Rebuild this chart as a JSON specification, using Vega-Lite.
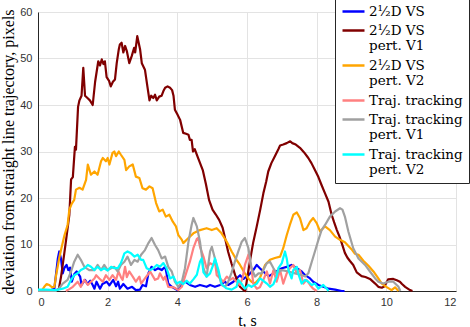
{
"$schema":"https://vega.github.io/schema/vega-lite/v6.json",
"width":418,"height":279,
"autosize":{"type":"none"},
"padding":{"left":38,"top":12,"right":14,"bottom":36},
"config":{
 "view":{"stroke":null},
 "axis":{"domainColor":"#262626","domainWidth":1,"tickSize":0,"gridColor":"#e3e3e3","gridWidth":1,"labelFont":"Liberation Sans","labelFontSize":11,"labelColor":"#333333","titleFont":"Liberation Serif","titleFontSize":16,"titleFontWeight":"normal","titleColor":"#000000"}
},
"data":{"values":[
{"s":"2¹⁄₂D VS","t":0,"v":0},{"s":"2¹⁄₂D VS","t":0.3,"v":0},{"s":"2¹⁄₂D VS","t":0.47,"v":0.5},{"s":"2¹⁄₂D VS","t":0.52,"v":3.8},{"s":"2¹⁄₂D VS","t":0.57,"v":7},{"s":"2¹⁄₂D VS","t":0.61,"v":8.5},{"s":"2¹⁄₂D VS","t":0.66,"v":7},{"s":"2¹⁄₂D VS","t":0.71,"v":3.8},{"s":"2¹⁄₂D VS","t":0.76,"v":5},{"s":"2¹⁄₂D VS","t":0.82,"v":5.6},{"s":"2¹⁄₂D VS","t":0.87,"v":4.5},{"s":"2¹⁄₂D VS","t":0.92,"v":5},{"s":"2¹⁄₂D VS","t":0.97,"v":2},{"s":"2¹⁄₂D VS","t":1.04,"v":3.6},{"s":"2¹⁄₂D VS","t":1.11,"v":4.2},{"s":"2¹⁄₂D VS","t":1.21,"v":3.1},{"s":"2¹⁄₂D VS","t":1.25,"v":1.3},{"s":"2¹⁄₂D VS","t":1.35,"v":2.4},{"s":"2¹⁄₂D VS","t":1.42,"v":1.5},{"s":"2¹⁄₂D VS","t":1.5,"v":2.2},{"s":"2¹⁄₂D VS","t":1.57,"v":1.3},{"s":"2¹⁄₂D VS","t":1.62,"v":0.5},{"s":"2¹⁄₂D VS","t":1.68,"v":2},{"s":"2¹⁄₂D VS","t":1.78,"v":0.5},{"s":"2¹⁄₂D VS","t":1.85,"v":1.5},{"s":"2¹⁄₂D VS","t":1.97,"v":2},{"s":"2¹⁄₂D VS","t":2.05,"v":1.2},{"s":"2¹⁄₂D VS","t":2.16,"v":2.4},{"s":"2¹⁄₂D VS","t":2.24,"v":1},{"s":"2¹⁄₂D VS","t":2.3,"v":2},{"s":"2¹⁄₂D VS","t":2.35,"v":0.5},{"s":"2¹⁄₂D VS","t":2.45,"v":1.5},{"s":"2¹⁄₂D VS","t":2.57,"v":0.5},{"s":"2¹⁄₂D VS","t":2.7,"v":0.9},{"s":"2¹⁄₂D VS","t":2.81,"v":0.2},{"s":"2¹⁄₂D VS","t":2.93,"v":0.3},{"s":"2¹⁄₂D VS","t":3.0,"v":1.3},{"s":"2¹⁄₂D VS","t":3.1,"v":1},{"s":"2¹⁄₂D VS","t":3.17,"v":3.8},{"s":"2¹⁄₂D VS","t":3.26,"v":5.2},{"s":"2¹⁄₂D VS","t":3.36,"v":4.5},{"s":"2¹⁄₂D VS","t":3.45,"v":4.9},{"s":"2¹⁄₂D VS","t":3.55,"v":4.5},{"s":"2¹⁄₂D VS","t":3.65,"v":5.2},{"s":"2¹⁄₂D VS","t":3.69,"v":3.8},{"s":"2¹⁄₂D VS","t":3.74,"v":1.6},{"s":"2¹⁄₂D VS","t":3.84,"v":0.9},{"s":"2¹⁄₂D VS","t":4.0,"v":0.2},{"s":"2¹⁄₂D VS","t":4.13,"v":1.6},{"s":"2¹⁄₂D VS","t":4.22,"v":2},{"s":"2¹⁄₂D VS","t":4.36,"v":1.3},{"s":"2¹⁄₂D VS","t":4.51,"v":0.9},{"s":"2¹⁄₂D VS","t":4.65,"v":1.3},{"s":"2¹⁄₂D VS","t":4.84,"v":0.9},{"s":"2¹⁄₂D VS","t":4.94,"v":1.3},{"s":"2¹⁄₂D VS","t":5.08,"v":0.9},{"s":"2¹⁄₂D VS","t":5.23,"v":1.3},{"s":"2¹⁄₂D VS","t":5.37,"v":2},{"s":"2¹⁄₂D VS","t":5.46,"v":1.3},{"s":"2¹⁄₂D VS","t":5.61,"v":2},{"s":"2¹⁄₂D VS","t":5.7,"v":2.7},{"s":"2¹⁄₂D VS","t":5.8,"v":3.4},{"s":"2¹⁄₂D VS","t":5.9,"v":2.6},{"s":"2¹⁄₂D VS","t":6.04,"v":3.4},{"s":"2¹⁄₂D VS","t":6.18,"v":4.5},{"s":"2¹⁄₂D VS","t":6.28,"v":5.6},{"s":"2¹⁄₂D VS","t":6.37,"v":4.9},{"s":"2¹⁄₂D VS","t":6.52,"v":3.8},{"s":"2¹⁄₂D VS","t":6.63,"v":3.2},{"s":"2¹⁄₂D VS","t":6.76,"v":3.8},{"s":"2¹⁄₂D VS","t":6.9,"v":4.5},{"s":"2¹⁄₂D VS","t":7.0,"v":4.9},{"s":"2¹⁄₂D VS","t":7.14,"v":5.2},{"s":"2¹⁄₂D VS","t":7.28,"v":5.6},{"s":"2¹⁄₂D VS","t":7.43,"v":4.9},{"s":"2¹⁄₂D VS","t":7.57,"v":4.2},{"s":"2¹⁄₂D VS","t":7.67,"v":3.4},{"s":"2¹⁄₂D VS","t":7.81,"v":2.7},{"s":"2¹⁄₂D VS","t":7.9,"v":2},{"s":"2¹⁄₂D VS","t":8.05,"v":1.3},{"s":"2¹⁄₂D VS","t":8.19,"v":0.9},{"s":"2¹⁄₂D VS","t":8.34,"v":0.5},{"s":"2¹⁄₂D VS","t":8.53,"v":0.3},{"s":"2¹⁄₂D VS","t":8.72,"v":0},{"s":"2¹⁄₂D VS","t":8.8,"v":0},

{"s":"2¹⁄₂D VS pert. V1","t":0,"v":0},{"s":"2¹⁄₂D VS pert. V1","t":0.5,"v":0},{"s":"2¹⁄₂D VS pert. V1","t":0.6,"v":0.5},{"s":"2¹⁄₂D VS pert. V1","t":0.66,"v":3},{"s":"2¹⁄₂D VS pert. V1","t":0.71,"v":5.6},{"s":"2¹⁄₂D VS pert. V1","t":0.8,"v":10.6},{"s":"2¹⁄₂D VS pert. V1","t":0.9,"v":16.4},{"s":"2¹⁄₂D VS pert. V1","t":0.95,"v":24},{"s":"2¹⁄₂D VS pert. V1","t":1.0,"v":24.5},{"s":"2¹⁄₂D VS pert. V1","t":1.06,"v":31},{"s":"2¹⁄₂D VS pert. V1","t":1.09,"v":30.4},{"s":"2¹⁄₂D VS pert. V1","t":1.15,"v":39.6},{"s":"2¹⁄₂D VS pert. V1","t":1.19,"v":41},{"s":"2¹⁄₂D VS pert. V1","t":1.25,"v":42},{"s":"2¹⁄₂D VS pert. V1","t":1.3,"v":48},{"s":"2¹⁄₂D VS pert. V1","t":1.35,"v":42},{"s":"2¹⁄₂D VS pert. V1","t":1.42,"v":41.5},{"s":"2¹⁄₂D VS pert. V1","t":1.49,"v":41},{"s":"2¹⁄₂D VS pert. V1","t":1.57,"v":40},{"s":"2¹⁄₂D VS pert. V1","t":1.64,"v":45},{"s":"2¹⁄₂D VS pert. V1","t":1.73,"v":49.4},{"s":"2¹⁄₂D VS pert. V1","t":1.78,"v":48.5},{"s":"2¹⁄₂D VS pert. V1","t":1.83,"v":49.8},{"s":"2¹⁄₂D VS pert. V1","t":1.88,"v":48.8},{"s":"2¹⁄₂D VS pert. V1","t":1.92,"v":49.4},{"s":"2¹⁄₂D VS pert. V1","t":1.97,"v":46},{"s":"2¹⁄₂D VS pert. V1","t":2.04,"v":45.2},{"s":"2¹⁄₂D VS pert. V1","t":2.09,"v":44},{"s":"2¹⁄₂D VS pert. V1","t":2.15,"v":45},{"s":"2¹⁄₂D VS pert. V1","t":2.21,"v":45.5},{"s":"2¹⁄₂D VS pert. V1","t":2.26,"v":49},{"s":"2¹⁄₂D VS pert. V1","t":2.32,"v":52},{"s":"2¹⁄₂D VS pert. V1","t":2.35,"v":53},{"s":"2¹⁄₂D VS pert. V1","t":2.4,"v":53.4},{"s":"2¹⁄₂D VS pert. V1","t":2.45,"v":51.3},{"s":"2¹⁄₂D VS pert. V1","t":2.5,"v":52.7},{"s":"2¹⁄₂D VS pert. V1","t":2.55,"v":51.6},{"s":"2¹⁄₂D VS pert. V1","t":2.62,"v":49},{"s":"2¹⁄₂D VS pert. V1","t":2.69,"v":50.5},{"s":"2¹⁄₂D VS pert. V1","t":2.76,"v":52.3},{"s":"2¹⁄₂D VS pert. V1","t":2.79,"v":51.3},{"s":"2¹⁄₂D VS pert. V1","t":2.85,"v":54.8},{"s":"2¹⁄₂D VS pert. V1","t":2.93,"v":52},{"s":"2¹⁄₂D VS pert. V1","t":2.98,"v":49},{"s":"2¹⁄₂D VS pert. V1","t":3.07,"v":47.6},{"s":"2¹⁄₂D VS pert. V1","t":3.14,"v":44},{"s":"2¹⁄₂D VS pert. V1","t":3.2,"v":41},{"s":"2¹⁄₂D VS pert. V1","t":3.25,"v":42},{"s":"2¹⁄₂D VS pert. V1","t":3.31,"v":41.5},{"s":"2¹⁄₂D VS pert. V1","t":3.36,"v":42.2},{"s":"2¹⁄₂D VS pert. V1","t":3.41,"v":41},{"s":"2¹⁄₂D VS pert. V1","t":3.48,"v":41.8},{"s":"2¹⁄₂D VS pert. V1","t":3.55,"v":42},{"s":"2¹⁄₂D VS pert. V1","t":3.6,"v":43},{"s":"2¹⁄₂D VS pert. V1","t":3.65,"v":43.7},{"s":"2¹⁄₂D VS pert. V1","t":3.72,"v":44},{"s":"2¹⁄₂D VS pert. V1","t":3.79,"v":43.7},{"s":"2¹⁄₂D VS pert. V1","t":3.85,"v":43.2},{"s":"2¹⁄₂D VS pert. V1","t":3.89,"v":42},{"s":"2¹⁄₂D VS pert. V1","t":3.93,"v":39},{"s":"2¹⁄₂D VS pert. V1","t":4.0,"v":38},{"s":"2¹⁄₂D VS pert. V1","t":4.08,"v":36.8},{"s":"2¹⁄₂D VS pert. V1","t":4.17,"v":34},{"s":"2¹⁄₂D VS pert. V1","t":4.25,"v":33.8},{"s":"2¹⁄₂D VS pert. V1","t":4.32,"v":33.6},{"s":"2¹⁄₂D VS pert. V1","t":4.36,"v":32.5},{"s":"2¹⁄₂D VS pert. V1","t":4.41,"v":32.5},{"s":"2¹⁄₂D VS pert. V1","t":4.45,"v":30},{"s":"2¹⁄₂D VS pert. V1","t":4.5,"v":30.5},{"s":"2¹⁄₂D VS pert. V1","t":4.6,"v":28.5},{"s":"2¹⁄₂D VS pert. V1","t":4.73,"v":26},{"s":"2¹⁄₂D VS pert. V1","t":4.82,"v":23},{"s":"2¹⁄₂D VS pert. V1","t":4.91,"v":19.6},{"s":"2¹⁄₂D VS pert. V1","t":5.01,"v":17.5},{"s":"2¹⁄₂D VS pert. V1","t":5.1,"v":16.5},{"s":"2¹⁄₂D VS pert. V1","t":5.2,"v":15.3},{"s":"2¹⁄₂D VS pert. V1","t":5.3,"v":13.6},{"s":"2¹⁄₂D VS pert. V1","t":5.38,"v":11},{"s":"2¹⁄₂D VS pert. V1","t":5.46,"v":8.4},{"s":"2¹⁄₂D VS pert. V1","t":5.56,"v":5.8},{"s":"2¹⁄₂D VS pert. V1","t":5.66,"v":3.4},{"s":"2¹⁄₂D VS pert. V1","t":5.8,"v":0.9},{"s":"2¹⁄₂D VS pert. V1","t":5.9,"v":0.2},{"s":"2¹⁄₂D VS pert. V1","t":5.95,"v":0},{"s":"2¹⁄₂D VS pert. V1","t":6.0,"v":2.5},{"s":"2¹⁄₂D VS pert. V1","t":6.09,"v":6.7},{"s":"2¹⁄₂D VS pert. V1","t":6.18,"v":10.5},{"s":"2¹⁄₂D VS pert. V1","t":6.28,"v":13.9},{"s":"2¹⁄₂D VS pert. V1","t":6.38,"v":17.5},{"s":"2¹⁄₂D VS pert. V1","t":6.47,"v":21},{"s":"2¹⁄₂D VS pert. V1","t":6.55,"v":23.5},{"s":"2¹⁄₂D VS pert. V1","t":6.61,"v":25.7},{"s":"2¹⁄₂D VS pert. V1","t":6.7,"v":27.5},{"s":"2¹⁄₂D VS pert. V1","t":6.8,"v":29},{"s":"2¹⁄₂D VS pert. V1","t":6.9,"v":30.5},{"s":"2¹⁄₂D VS pert. V1","t":6.95,"v":31.3},{"s":"2¹⁄₂D VS pert. V1","t":7.04,"v":31.5},{"s":"2¹⁄₂D VS pert. V1","t":7.14,"v":31.8},{"s":"2¹⁄₂D VS pert. V1","t":7.24,"v":32.2},{"s":"2¹⁄₂D VS pert. V1","t":7.3,"v":31.8},{"s":"2¹⁄₂D VS pert. V1","t":7.4,"v":31.5},{"s":"2¹⁄₂D VS pert. V1","t":7.52,"v":30.8},{"s":"2¹⁄₂D VS pert. V1","t":7.64,"v":29.8},{"s":"2¹⁄₂D VS pert. V1","t":7.76,"v":28.6},{"s":"2¹⁄₂D VS pert. V1","t":7.85,"v":27.5},{"s":"2¹⁄₂D VS pert. V1","t":7.95,"v":26},{"s":"2¹⁄₂D VS pert. V1","t":8.05,"v":24.5},{"s":"2¹⁄₂D VS pert. V1","t":8.14,"v":22.8},{"s":"2¹⁄₂D VS pert. V1","t":8.24,"v":21},{"s":"2¹⁄₂D VS pert. V1","t":8.34,"v":19.2},{"s":"2¹⁄₂D VS pert. V1","t":8.43,"v":16.4},{"s":"2¹⁄₂D VS pert. V1","t":8.5,"v":14.8},{"s":"2¹⁄₂D VS pert. V1","t":8.58,"v":13.1},{"s":"2¹⁄₂D VS pert. V1","t":8.65,"v":11.8},{"s":"2¹⁄₂D VS pert. V1","t":8.72,"v":10.3},{"s":"2¹⁄₂D VS pert. V1","t":8.81,"v":8.2},{"s":"2¹⁄₂D VS pert. V1","t":8.88,"v":7.2},{"s":"2¹⁄₂D VS pert. V1","t":8.95,"v":6.5},{"s":"2¹⁄₂D VS pert. V1","t":9.05,"v":5.6},{"s":"2¹⁄₂D VS pert. V1","t":9.15,"v":4},{"s":"2¹⁄₂D VS pert. V1","t":9.29,"v":3.2},{"s":"2¹⁄₂D VS pert. V1","t":9.4,"v":3},{"s":"2¹⁄₂D VS pert. V1","t":9.53,"v":2.6},{"s":"2¹⁄₂D VS pert. V1","t":9.68,"v":1.6},{"s":"2¹⁄₂D VS pert. V1","t":9.77,"v":0.9},{"s":"2¹⁄₂D VS pert. V1","t":9.87,"v":0.7},{"s":"2¹⁄₂D VS pert. V1","t":9.95,"v":1},{"s":"2¹⁄₂D VS pert. V1","t":10.05,"v":2.5},{"s":"2¹⁄₂D VS pert. V1","t":10.2,"v":2.6},{"s":"2¹⁄₂D VS pert. V1","t":10.3,"v":2.3},{"s":"2¹⁄₂D VS pert. V1","t":10.39,"v":2},{"s":"2¹⁄₂D VS pert. V1","t":10.45,"v":1.5},{"s":"2¹⁄₂D VS pert. V1","t":10.54,"v":0.9},{"s":"2¹⁄₂D VS pert. V1","t":10.68,"v":0.2},{"s":"2¹⁄₂D VS pert. V1","t":10.75,"v":0},

{"s":"2¹⁄₂D VS pert. V2","t":0,"v":0},{"s":"2¹⁄₂D VS pert. V2","t":0.1,"v":0},{"s":"2¹⁄₂D VS pert. V2","t":0.18,"v":0.9},{"s":"2¹⁄₂D VS pert. V2","t":0.25,"v":1.5},{"s":"2¹⁄₂D VS pert. V2","t":0.32,"v":1.3},{"s":"2¹⁄₂D VS pert. V2","t":0.4,"v":0.8},{"s":"2¹⁄₂D VS pert. V2","t":0.47,"v":0.9},{"s":"2¹⁄₂D VS pert. V2","t":0.52,"v":3.4},{"s":"2¹⁄₂D VS pert. V2","t":0.61,"v":7.1},{"s":"2¹⁄₂D VS pert. V2","t":0.66,"v":8.8},{"s":"2¹⁄₂D VS pert. V2","t":0.76,"v":12},{"s":"2¹⁄₂D VS pert. V2","t":0.85,"v":14.2},{"s":"2¹⁄₂D VS pert. V2","t":0.9,"v":17.5},{"s":"2¹⁄₂D VS pert. V2","t":0.97,"v":18.8},{"s":"2¹⁄₂D VS pert. V2","t":1.04,"v":19.6},{"s":"2¹⁄₂D VS pert. V2","t":1.09,"v":21.8},{"s":"2¹⁄₂D VS pert. V2","t":1.19,"v":22.2},{"s":"2¹⁄₂D VS pert. V2","t":1.28,"v":21.8},{"s":"2¹⁄₂D VS pert. V2","t":1.38,"v":23.9},{"s":"2¹⁄₂D VS pert. V2","t":1.43,"v":27.2},{"s":"2¹⁄₂D VS pert. V2","t":1.52,"v":25},{"s":"2¹⁄₂D VS pert. V2","t":1.62,"v":25.7},{"s":"2¹⁄₂D VS pert. V2","t":1.71,"v":25},{"s":"2¹⁄₂D VS pert. V2","t":1.81,"v":27.9},{"s":"2¹⁄₂D VS pert. V2","t":1.86,"v":28.6},{"s":"2¹⁄₂D VS pert. V2","t":1.95,"v":27.9},{"s":"2¹⁄₂D VS pert. V2","t":2.0,"v":28.6},{"s":"2¹⁄₂D VS pert. V2","t":2.05,"v":27.2},{"s":"2¹⁄₂D VS pert. V2","t":2.14,"v":29.7},{"s":"2¹⁄₂D VS pert. V2","t":2.19,"v":30},{"s":"2¹⁄₂D VS pert. V2","t":2.24,"v":29},{"s":"2¹⁄₂D VS pert. V2","t":2.32,"v":30},{"s":"2¹⁄₂D VS pert. V2","t":2.38,"v":29.3},{"s":"2¹⁄₂D VS pert. V2","t":2.48,"v":28.2},{"s":"2¹⁄₂D VS pert. V2","t":2.53,"v":26},{"s":"2¹⁄₂D VS pert. V2","t":2.62,"v":26.8},{"s":"2¹⁄₂D VS pert. V2","t":2.72,"v":27.2},{"s":"2¹⁄₂D VS pert. V2","t":2.81,"v":24.6},{"s":"2¹⁄₂D VS pert. V2","t":2.91,"v":24.3},{"s":"2¹⁄₂D VS pert. V2","t":3.0,"v":22.1},{"s":"2¹⁄₂D VS pert. V2","t":3.1,"v":21.8},{"s":"2¹⁄₂D VS pert. V2","t":3.2,"v":22.5},{"s":"2¹⁄₂D VS pert. V2","t":3.29,"v":22.1},{"s":"2¹⁄₂D VS pert. V2","t":3.39,"v":18.9},{"s":"2¹⁄₂D VS pert. V2","t":3.48,"v":17.1},{"s":"2¹⁄₂D VS pert. V2","t":3.58,"v":17.5},{"s":"2¹⁄₂D VS pert. V2","t":3.67,"v":16},{"s":"2¹⁄₂D VS pert. V2","t":3.77,"v":16.4},{"s":"2¹⁄₂D VS pert. V2","t":3.87,"v":14.9},{"s":"2¹⁄₂D VS pert. V2","t":3.96,"v":13.9},{"s":"2¹⁄₂D VS pert. V2","t":4.03,"v":12},{"s":"2¹⁄₂D VS pert. V2","t":4.13,"v":11},{"s":"2¹⁄₂D VS pert. V2","t":4.17,"v":10.3},{"s":"2¹⁄₂D VS pert. V2","t":4.32,"v":11.4},{"s":"2¹⁄₂D VS pert. V2","t":4.46,"v":12.4},{"s":"2¹⁄₂D VS pert. V2","t":4.65,"v":13.1},{"s":"2¹⁄₂D VS pert. V2","t":4.84,"v":13.5},{"s":"2¹⁄₂D VS pert. V2","t":4.99,"v":13.1},{"s":"2¹⁄₂D VS pert. V2","t":5.13,"v":13.5},{"s":"2¹⁄₂D VS pert. V2","t":5.27,"v":12.4},{"s":"2¹⁄₂D VS pert. V2","t":5.42,"v":10.6},{"s":"2¹⁄₂D VS pert. V2","t":5.56,"v":8.5},{"s":"2¹⁄₂D VS pert. V2","t":5.7,"v":6.7},{"s":"2¹⁄₂D VS pert. V2","t":5.8,"v":5.6},{"s":"2¹⁄₂D VS pert. V2","t":5.94,"v":3.8},{"s":"2¹⁄₂D VS pert. V2","t":6.04,"v":2.7},{"s":"2¹⁄₂D VS pert. V2","t":6.13,"v":2},{"s":"2¹⁄₂D VS pert. V2","t":6.23,"v":1.6},{"s":"2¹⁄₂D VS pert. V2","t":6.37,"v":2.8},{"s":"2¹⁄₂D VS pert. V2","t":6.52,"v":5.6},{"s":"2¹⁄₂D VS pert. V2","t":6.66,"v":6.7},{"s":"2¹⁄₂D VS pert. V2","t":6.8,"v":7.1},{"s":"2¹⁄₂D VS pert. V2","t":6.95,"v":7.4},{"s":"2¹⁄₂D VS pert. V2","t":7.04,"v":9.2},{"s":"2¹⁄₂D VS pert. V2","t":7.14,"v":12},{"s":"2¹⁄₂D VS pert. V2","t":7.23,"v":14.2},{"s":"2¹⁄₂D VS pert. V2","t":7.33,"v":16.4},{"s":"2¹⁄₂D VS pert. V2","t":7.43,"v":16.9},{"s":"2¹⁄₂D VS pert. V2","t":7.52,"v":15.7},{"s":"2¹⁄₂D VS pert. V2","t":7.62,"v":13.1},{"s":"2¹⁄₂D VS pert. V2","t":7.71,"v":13.5},{"s":"2¹⁄₂D VS pert. V2","t":7.81,"v":14.9},{"s":"2¹⁄₂D VS pert. V2","t":7.9,"v":15.7},{"s":"2¹⁄₂D VS pert. V2","t":8.0,"v":14.6},{"s":"2¹⁄₂D VS pert. V2","t":8.1,"v":12.8},{"s":"2¹⁄₂D VS pert. V2","t":8.24,"v":13.9},{"s":"2¹⁄₂D VS pert. V2","t":8.38,"v":13.1},{"s":"2¹⁄₂D VS pert. V2","t":8.53,"v":11.7},{"s":"2¹⁄₂D VS pert. V2","t":8.67,"v":11},{"s":"2¹⁄₂D VS pert. V2","t":8.81,"v":10.5},{"s":"2¹⁄₂D VS pert. V2","t":9.0,"v":9},{"s":"2¹⁄₂D VS pert. V2","t":9.1,"v":8},{"s":"2¹⁄₂D VS pert. V2","t":9.2,"v":7.8},{"s":"2¹⁄₂D VS pert. V2","t":9.34,"v":6.5},{"s":"2¹⁄₂D VS pert. V2","t":9.48,"v":5.5},{"s":"2¹⁄₂D VS pert. V2","t":9.63,"v":4.2},{"s":"2¹⁄₂D VS pert. V2","t":9.77,"v":2.7},{"s":"2¹⁄₂D VS pert. V2","t":9.87,"v":1.6},{"s":"2¹⁄₂D VS pert. V2","t":10.0,"v":0.9},{"s":"2¹⁄₂D VS pert. V2","t":10.15,"v":0.2},{"s":"2¹⁄₂D VS pert. V2","t":10.25,"v":0.8},{"s":"2¹⁄₂D VS pert. V2","t":10.35,"v":0},

{"s":"Traj. tracking","t":0.8,"v":0},{"s":"Traj. tracking","t":0.9,"v":0.4},{"s":"Traj. tracking","t":1.0,"v":0.9},{"s":"Traj. tracking","t":1.14,"v":2},{"s":"Traj. tracking","t":1.23,"v":0.9},{"s":"Traj. tracking","t":1.33,"v":2.4},{"s":"Traj. tracking","t":1.43,"v":1.3},{"s":"Traj. tracking","t":1.52,"v":2},{"s":"Traj. tracking","t":1.62,"v":2.7},{"s":"Traj. tracking","t":1.67,"v":3.4},{"s":"Traj. tracking","t":1.76,"v":2.7},{"s":"Traj. tracking","t":1.86,"v":2},{"s":"Traj. tracking","t":1.95,"v":3.4},{"s":"Traj. tracking","t":2.05,"v":2.4},{"s":"Traj. tracking","t":2.14,"v":3.4},{"s":"Traj. tracking","t":2.24,"v":2.4},{"s":"Traj. tracking","t":2.31,"v":4.2},{"s":"Traj. tracking","t":2.38,"v":3},{"s":"Traj. tracking","t":2.43,"v":2.4},{"s":"Traj. tracking","t":2.5,"v":5.2},{"s":"Traj. tracking","t":2.55,"v":3},{"s":"Traj. tracking","t":2.62,"v":4.2},{"s":"Traj. tracking","t":2.72,"v":3.1},{"s":"Traj. tracking","t":2.81,"v":2},{"s":"Traj. tracking","t":2.91,"v":3.1},{"s":"Traj. tracking","t":2.96,"v":1.6},{"s":"Traj. tracking","t":3.07,"v":2.7},{"s":"Traj. tracking","t":3.15,"v":3.5},{"s":"Traj. tracking","t":3.22,"v":4.2},{"s":"Traj. tracking","t":3.36,"v":2.4},{"s":"Traj. tracking","t":3.45,"v":2.7},{"s":"Traj. tracking","t":3.5,"v":3.8},{"s":"Traj. tracking","t":3.6,"v":2.4},{"s":"Traj. tracking","t":3.65,"v":3.1},{"s":"Traj. tracking","t":3.74,"v":0.9},{"s":"Traj. tracking","t":3.89,"v":0.8},{"s":"Traj. tracking","t":4.03,"v":0.2},{"s":"Traj. tracking","t":4.13,"v":0.9},{"s":"Traj. tracking","t":4.22,"v":3.1},{"s":"Traj. tracking","t":4.36,"v":6.3},{"s":"Traj. tracking","t":4.46,"v":9.2},{"s":"Traj. tracking","t":4.56,"v":11.2},{"s":"Traj. tracking","t":4.6,"v":11.4},{"s":"Traj. tracking","t":4.65,"v":9.5},{"s":"Traj. tracking","t":4.75,"v":7.4},{"s":"Traj. tracking","t":4.84,"v":4.9},{"s":"Traj. tracking","t":4.94,"v":6},{"s":"Traj. tracking","t":5.03,"v":5.6},{"s":"Traj. tracking","t":5.08,"v":6.5},{"s":"Traj. tracking","t":5.13,"v":3.4},{"s":"Traj. tracking","t":5.23,"v":2.7},{"s":"Traj. tracking","t":5.32,"v":2},{"s":"Traj. tracking","t":5.42,"v":3.1},{"s":"Traj. tracking","t":5.51,"v":2.4},{"s":"Traj. tracking","t":5.6,"v":2.8},{"s":"Traj. tracking","t":5.7,"v":2},{"s":"Traj. tracking","t":5.8,"v":1.3},{"s":"Traj. tracking","t":5.88,"v":3},{"s":"Traj. tracking","t":5.94,"v":5.6},{"s":"Traj. tracking","t":6.04,"v":7.8},{"s":"Traj. tracking","t":6.13,"v":4.9},{"s":"Traj. tracking","t":6.18,"v":1.6},{"s":"Traj. tracking","t":6.28,"v":0.5},{"s":"Traj. tracking","t":6.37,"v":0.8},{"s":"Traj. tracking","t":6.47,"v":2.4},{"s":"Traj. tracking","t":6.57,"v":4.2},{"s":"Traj. tracking","t":6.66,"v":1.6},{"s":"Traj. tracking","t":6.76,"v":4.5},{"s":"Traj. tracking","t":6.85,"v":2},{"s":"Traj. tracking","t":6.95,"v":4.5},{"s":"Traj. tracking","t":7.04,"v":1.6},{"s":"Traj. tracking","t":7.14,"v":3.8},{"s":"Traj. tracking","t":7.23,"v":4.9},{"s":"Traj. tracking","t":7.33,"v":5.6},{"s":"Traj. tracking","t":7.43,"v":3.8},{"s":"Traj. tracking","t":7.52,"v":4.5},{"s":"Traj. tracking","t":7.62,"v":1.6},{"s":"Traj. tracking","t":7.71,"v":2.4},{"s":"Traj. tracking","t":7.81,"v":1.3},{"s":"Traj. tracking","t":7.9,"v":0.5},{"s":"Traj. tracking","t":8.0,"v":0},

{"s":"Traj. tracking pert. V1","t":0,"v":0},{"s":"Traj. tracking pert. V1","t":0.5,"v":0},{"s":"Traj. tracking pert. V1","t":0.6,"v":0.5},{"s":"Traj. tracking pert. V1","t":0.71,"v":1.6},{"s":"Traj. tracking pert. V1","t":0.85,"v":2.4},{"s":"Traj. tracking pert. V1","t":0.95,"v":4.2},{"s":"Traj. tracking pert. V1","t":1.04,"v":6.3},{"s":"Traj. tracking pert. V1","t":1.14,"v":7.8},{"s":"Traj. tracking pert. V1","t":1.23,"v":6.7},{"s":"Traj. tracking pert. V1","t":1.33,"v":5.2},{"s":"Traj. tracking pert. V1","t":1.47,"v":4.5},{"s":"Traj. tracking pert. V1","t":1.62,"v":4.5},{"s":"Traj. tracking pert. V1","t":1.71,"v":5.6},{"s":"Traj. tracking pert. V1","t":1.81,"v":4.5},{"s":"Traj. tracking pert. V1","t":1.9,"v":5.6},{"s":"Traj. tracking pert. V1","t":2.0,"v":4.5},{"s":"Traj. tracking pert. V1","t":2.1,"v":4.9},{"s":"Traj. tracking pert. V1","t":2.19,"v":5.2},{"s":"Traj. tracking pert. V1","t":2.29,"v":4.2},{"s":"Traj. tracking pert. V1","t":2.38,"v":5.6},{"s":"Traj. tracking pert. V1","t":2.48,"v":6.3},{"s":"Traj. tracking pert. V1","t":2.57,"v":7.4},{"s":"Traj. tracking pert. V1","t":2.67,"v":5.6},{"s":"Traj. tracking pert. V1","t":2.77,"v":6.7},{"s":"Traj. tracking pert. V1","t":2.86,"v":6.3},{"s":"Traj. tracking pert. V1","t":2.96,"v":7.8},{"s":"Traj. tracking pert. V1","t":3.07,"v":8.8},{"s":"Traj. tracking pert. V1","t":3.17,"v":10.3},{"s":"Traj. tracking pert. V1","t":3.26,"v":11.4},{"s":"Traj. tracking pert. V1","t":3.36,"v":9.9},{"s":"Traj. tracking pert. V1","t":3.45,"v":8.8},{"s":"Traj. tracking pert. V1","t":3.55,"v":7},{"s":"Traj. tracking pert. V1","t":3.65,"v":7.4},{"s":"Traj. tracking pert. V1","t":3.74,"v":5.2},{"s":"Traj. tracking pert. V1","t":3.84,"v":4.2},{"s":"Traj. tracking pert. V1","t":3.93,"v":2},{"s":"Traj. tracking pert. V1","t":4.03,"v":0.9},{"s":"Traj. tracking pert. V1","t":4.13,"v":2},{"s":"Traj. tracking pert. V1","t":4.22,"v":4.9},{"s":"Traj. tracking pert. V1","t":4.32,"v":10.6},{"s":"Traj. tracking pert. V1","t":4.41,"v":14.2},{"s":"Traj. tracking pert. V1","t":4.46,"v":15.7},{"s":"Traj. tracking pert. V1","t":4.56,"v":13.9},{"s":"Traj. tracking pert. V1","t":4.65,"v":10.6},{"s":"Traj. tracking pert. V1","t":4.75,"v":4.9},{"s":"Traj. tracking pert. V1","t":4.84,"v":3.1},{"s":"Traj. tracking pert. V1","t":4.94,"v":8.5},{"s":"Traj. tracking pert. V1","t":4.99,"v":9.5},{"s":"Traj. tracking pert. V1","t":5.08,"v":7},{"s":"Traj. tracking pert. V1","t":5.18,"v":3.8},{"s":"Traj. tracking pert. V1","t":5.27,"v":1.3},{"s":"Traj. tracking pert. V1","t":5.37,"v":0.9},{"s":"Traj. tracking pert. V1","t":5.46,"v":2},{"s":"Traj. tracking pert. V1","t":5.56,"v":4},{"s":"Traj. tracking pert. V1","t":5.66,"v":6.5},{"s":"Traj. tracking pert. V1","t":5.75,"v":8.5},{"s":"Traj. tracking pert. V1","t":5.85,"v":10.6},{"s":"Traj. tracking pert. V1","t":5.94,"v":11.4},{"s":"Traj. tracking pert. V1","t":6.04,"v":9.2},{"s":"Traj. tracking pert. V1","t":6.13,"v":4.9},{"s":"Traj. tracking pert. V1","t":6.23,"v":3.1},{"s":"Traj. tracking pert. V1","t":6.33,"v":3.8},{"s":"Traj. tracking pert. V1","t":6.42,"v":3.8},{"s":"Traj. tracking pert. V1","t":6.47,"v":4.5},{"s":"Traj. tracking pert. V1","t":6.57,"v":6},{"s":"Traj. tracking pert. V1","t":6.66,"v":6.3},{"s":"Traj. tracking pert. V1","t":6.76,"v":4.9},{"s":"Traj. tracking pert. V1","t":6.85,"v":3.8},{"s":"Traj. tracking pert. V1","t":7.0,"v":4.5},{"s":"Traj. tracking pert. V1","t":7.19,"v":4.2},{"s":"Traj. tracking pert. V1","t":7.38,"v":3.8},{"s":"Traj. tracking pert. V1","t":7.55,"v":3.5},{"s":"Traj. tracking pert. V1","t":7.67,"v":3.1},{"s":"Traj. tracking pert. V1","t":7.76,"v":3.8},{"s":"Traj. tracking pert. V1","t":7.86,"v":6.3},{"s":"Traj. tracking pert. V1","t":7.95,"v":8.5},{"s":"Traj. tracking pert. V1","t":8.05,"v":11},{"s":"Traj. tracking pert. V1","t":8.14,"v":13.1},{"s":"Traj. tracking pert. V1","t":8.24,"v":14.2},{"s":"Traj. tracking pert. V1","t":8.38,"v":16},{"s":"Traj. tracking pert. V1","t":8.53,"v":17.1},{"s":"Traj. tracking pert. V1","t":8.67,"v":17.8},{"s":"Traj. tracking pert. V1","t":8.74,"v":17.5},{"s":"Traj. tracking pert. V1","t":8.81,"v":16},{"s":"Traj. tracking pert. V1","t":8.91,"v":12.8},{"s":"Traj. tracking pert. V1","t":9.05,"v":9.2},{"s":"Traj. tracking pert. V1","t":9.2,"v":7},{"s":"Traj. tracking pert. V1","t":9.39,"v":5.6},{"s":"Traj. tracking pert. V1","t":9.53,"v":4.2},{"s":"Traj. tracking pert. V1","t":9.68,"v":2.7},{"s":"Traj. tracking pert. V1","t":9.77,"v":2},{"s":"Traj. tracking pert. V1","t":9.91,"v":1.6},{"s":"Traj. tracking pert. V1","t":10.06,"v":2},{"s":"Traj. tracking pert. V1","t":10.2,"v":2},{"s":"Traj. tracking pert. V1","t":10.35,"v":0.9},{"s":"Traj. tracking pert. V1","t":10.4,"v":0},

{"s":"Traj. tracking pert. V2","t":0,"v":0.3},{"s":"Traj. tracking pert. V2","t":0.23,"v":0.3},{"s":"Traj. tracking pert. V2","t":0.52,"v":0.2},{"s":"Traj. tracking pert. V2","t":0.71,"v":0.5},{"s":"Traj. tracking pert. V2","t":0.85,"v":0.9},{"s":"Traj. tracking pert. V2","t":0.95,"v":2.4},{"s":"Traj. tracking pert. V2","t":1.04,"v":3.4},{"s":"Traj. tracking pert. V2","t":1.14,"v":3.8},{"s":"Traj. tracking pert. V2","t":1.23,"v":4.5},{"s":"Traj. tracking pert. V2","t":1.33,"v":4.9},{"s":"Traj. tracking pert. V2","t":1.43,"v":5.6},{"s":"Traj. tracking pert. V2","t":1.52,"v":5.2},{"s":"Traj. tracking pert. V2","t":1.62,"v":4.5},{"s":"Traj. tracking pert. V2","t":1.71,"v":5.2},{"s":"Traj. tracking pert. V2","t":1.81,"v":4.5},{"s":"Traj. tracking pert. V2","t":1.9,"v":4.9},{"s":"Traj. tracking pert. V2","t":2.0,"v":4.4},{"s":"Traj. tracking pert. V2","t":2.1,"v":5.2},{"s":"Traj. tracking pert. V2","t":2.19,"v":4.9},{"s":"Traj. tracking pert. V2","t":2.29,"v":4.9},{"s":"Traj. tracking pert. V2","t":2.38,"v":6},{"s":"Traj. tracking pert. V2","t":2.43,"v":7},{"s":"Traj. tracking pert. V2","t":2.48,"v":8.1},{"s":"Traj. tracking pert. V2","t":2.57,"v":8.5},{"s":"Traj. tracking pert. V2","t":2.67,"v":8.1},{"s":"Traj. tracking pert. V2","t":2.77,"v":7.4},{"s":"Traj. tracking pert. V2","t":2.86,"v":7.8},{"s":"Traj. tracking pert. V2","t":2.96,"v":6.7},{"s":"Traj. tracking pert. V2","t":3.02,"v":6.7},{"s":"Traj. tracking pert. V2","t":3.12,"v":4.9},{"s":"Traj. tracking pert. V2","t":3.22,"v":4.5},{"s":"Traj. tracking pert. V2","t":3.31,"v":4.9},{"s":"Traj. tracking pert. V2","t":3.41,"v":5.6},{"s":"Traj. tracking pert. V2","t":3.5,"v":5.2},{"s":"Traj. tracking pert. V2","t":3.6,"v":6},{"s":"Traj. tracking pert. V2","t":3.69,"v":4.9},{"s":"Traj. tracking pert. V2","t":3.79,"v":2.7},{"s":"Traj. tracking pert. V2","t":3.89,"v":3.1},{"s":"Traj. tracking pert. V2","t":3.98,"v":1.6},{"s":"Traj. tracking pert. V2","t":4.08,"v":2},{"s":"Traj. tracking pert. V2","t":4.17,"v":1.5},{"s":"Traj. tracking pert. V2","t":4.27,"v":2.2},{"s":"Traj. tracking pert. V2","t":4.36,"v":1.6},{"s":"Traj. tracking pert. V2","t":4.46,"v":2.5},{"s":"Traj. tracking pert. V2","t":4.56,"v":3.5},{"s":"Traj. tracking pert. V2","t":4.65,"v":6.3},{"s":"Traj. tracking pert. V2","t":4.7,"v":7},{"s":"Traj. tracking pert. V2","t":4.75,"v":4},{"s":"Traj. tracking pert. V2","t":4.84,"v":3.1},{"s":"Traj. tracking pert. V2","t":4.94,"v":3.8},{"s":"Traj. tracking pert. V2","t":5.03,"v":5.6},{"s":"Traj. tracking pert. V2","t":5.08,"v":7},{"s":"Traj. tracking pert. V2","t":5.18,"v":4.5},{"s":"Traj. tracking pert. V2","t":5.27,"v":1.5},{"s":"Traj. tracking pert. V2","t":5.4,"v":0.6},{"s":"Traj. tracking pert. V2","t":5.56,"v":0.3},{"s":"Traj. tracking pert. V2","t":5.7,"v":0.9},{"s":"Traj. tracking pert. V2","t":5.75,"v":2.4},{"s":"Traj. tracking pert. V2","t":5.85,"v":1.5},{"s":"Traj. tracking pert. V2","t":5.94,"v":0.5},{"s":"Traj. tracking pert. V2","t":6.04,"v":1.3},{"s":"Traj. tracking pert. V2","t":6.13,"v":0.9},{"s":"Traj. tracking pert. V2","t":6.28,"v":1.6},{"s":"Traj. tracking pert. V2","t":6.37,"v":2.7},{"s":"Traj. tracking pert. V2","t":6.47,"v":2.2},{"s":"Traj. tracking pert. V2","t":6.57,"v":1.6},{"s":"Traj. tracking pert. V2","t":6.66,"v":0.9},{"s":"Traj. tracking pert. V2","t":6.76,"v":1.5},{"s":"Traj. tracking pert. V2","t":6.85,"v":3.1},{"s":"Traj. tracking pert. V2","t":6.9,"v":4.9},{"s":"Traj. tracking pert. V2","t":7.0,"v":6},{"s":"Traj. tracking pert. V2","t":7.09,"v":8.5},{"s":"Traj. tracking pert. V2","t":7.14,"v":7},{"s":"Traj. tracking pert. V2","t":7.19,"v":4.5},{"s":"Traj. tracking pert. V2","t":7.28,"v":2.7},{"s":"Traj. tracking pert. V2","t":7.33,"v":4.5},{"s":"Traj. tracking pert. V2","t":7.43,"v":5.2},{"s":"Traj. tracking pert. V2","t":7.47,"v":3.8},{"s":"Traj. tracking pert. V2","t":7.57,"v":1.6},{"s":"Traj. tracking pert. V2","t":7.67,"v":2.4},{"s":"Traj. tracking pert. V2","t":7.76,"v":2},{"s":"Traj. tracking pert. V2","t":7.86,"v":1.3},{"s":"Traj. tracking pert. V2","t":7.95,"v":1.6},{"s":"Traj. tracking pert. V2","t":8.05,"v":0.5},{"s":"Traj. tracking pert. V2","t":8.19,"v":1.3},{"s":"Traj. tracking pert. V2","t":8.29,"v":0.5},{"s":"Traj. tracking pert. V2","t":8.34,"v":0}
]},
"mark":{"type":"line","strokeWidth":2.2,"strokeJoin":"round"},
"encoding":{
 "x":{"field":"t","type":"quantitative","scale":{"domain":[0,12],"nice":false,"zero":false},"axis":{"title":"t, s","values":[0,2,4,6,8,10,12],"labelPadding":5,"titlePadding":5}},
 "y":{"field":"v","type":"quantitative","scale":{"domain":[0,60],"nice":false},"axis":{"title":"deviation from straight line trajectory, pixels","values":[0,10,20,30,40,50,60],"labelPadding":6,"titlePadding":3}},
 "color":{"field":"s","type":"nominal",
  "scale":{"domain":["2¹⁄₂D VS","2¹⁄₂D VS pert. V1","2¹⁄₂D VS pert. V2","Traj. tracking","Traj. tracking pert. V1","Traj. tracking pert. V2"],"range":["#0000ff","#800000","#ffa500","#ff8080","#a0a0a0","#00ffff"]},
  "legend":{"orient":"none","legendX":297,"legendY":-19,"title":null,"symbolType":"stroke","symbolSize":484,"symbolStrokeWidth":2.5,"labelFont":"DejaVu Serif","labelFontSize":13.5,"labelColor":"#000000","labelLimit":300,"labelOffset":3,"strokeColor":"#262626","fillColor":"#ffffff","padding":6,"rowPadding":0,
   "labelExpr":"indexof(datum.label,' pert.')>0 ? [slice(datum.label,0,indexof(datum.label,' pert.')), slice(datum.label,indexof(datum.label,' pert.')+1)] : datum.label"}
 }
}
}
